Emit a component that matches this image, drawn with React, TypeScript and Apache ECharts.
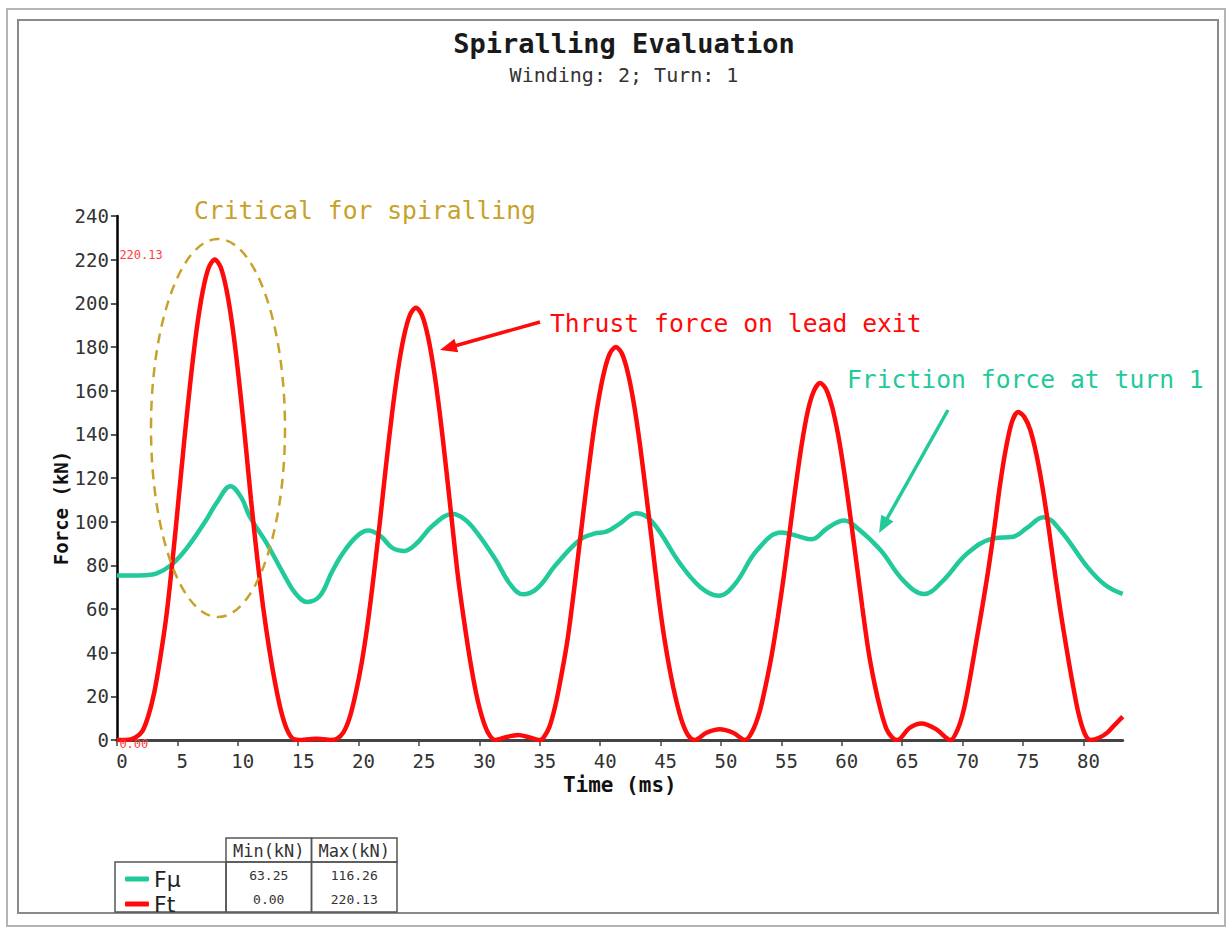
import React, { useEffect, useRef } from "react";
import * as echarts from "echarts";

// ---- data ----
const ftTime = [0, 0.8, 1.5, 2.1, 2.6, 3.1, 3.6, 4.1, 4.6, 5.1, 5.6, 6.1, 6.6, 7.1, 7.6, 8.1, 8.6, 9.1, 9.6, 10.1, 10.6, 11.1, 11.6, 12.1, 12.6, 13.1, 13.6, 14.1, 14.6, 15.3, 15.9, 16.5, 17.1, 17.7, 18.2, 18.75, 19.25, 19.75, 20.25, 20.75, 21.25, 21.75, 22.25, 22.75, 23.25, 23.75, 24.25, 24.75, 25.25, 25.75, 26.25, 26.75, 27.25, 27.75, 28.25, 28.75, 29.25, 29.75, 30.25, 30.75, 31.3, 32.2, 33.2, 34.1, 35.0, 35.3, 35.8, 36.3, 36.8, 37.3, 37.8, 38.3, 38.8, 39.3, 39.8, 40.3, 40.8, 41.3, 41.8, 42.3, 42.8, 43.3, 43.8, 44.3, 44.8, 45.3, 45.8, 46.3, 46.8, 47.3, 47.8, 48.8, 49.9, 51.0, 52.0, 52.6, 53.2, 53.7, 54.2, 54.7, 55.2, 55.7, 56.2, 56.7, 57.2, 57.7, 58.2, 58.7, 59.2, 59.7, 60.2, 60.7, 61.2, 61.7, 62.2, 62.7, 63.2, 63.7, 64.2, 64.6, 65.6, 66.6, 67.8, 69.0, 69.6, 70.1, 70.6, 71.1, 71.6, 72.1, 72.6, 73.1, 73.6, 74.1, 74.6, 75.1, 75.6, 76.1, 76.6, 77.1, 77.6, 78.1, 78.6, 79.1, 79.6, 80.1, 80.6, 81.3, 82.0, 82.6, 83.25];
const ftForce = [0, 0, 1, 4, 11, 22, 38, 57, 82, 110, 138.5, 165, 188, 205.4, 216.4, 220.13, 216.4, 205.4, 188, 165, 138.5, 110, 84, 61, 42, 26, 13, 4.5, 0.5, 0, 0.3, 0.6, 0.3, 0, 0.5, 3.5, 10, 21, 35, 53, 75, 99, 124.5, 148.5, 169, 184.7, 194.6, 198, 194.6, 184.7, 169, 148.5, 124.5, 99, 74, 54, 36, 21, 10, 3, 0, 1.3, 2.3, 1.3, 0, 1, 6, 16, 30, 46, 67, 90, 113, 135, 153.7, 168, 177, 180, 177, 168, 153.7, 135, 113, 90, 67, 47, 31, 18, 8, 2, 0, 3.3, 4.9, 3.3, 0, 4, 13, 25, 39, 56, 75, 96, 117, 136, 151, 160, 163.5, 160.7, 152.5, 139.6, 122.6, 102.8, 81.8, 60.7, 41, 26, 14, 5, 1, 0, 5.5, 7.6, 5, 0, 5, 14, 28, 44, 60, 77, 96, 117, 134, 146, 150.2, 148, 142, 131, 116, 98, 78, 59, 42, 26, 12, 3, 0, 1, 3.5, 7, 10.7];

const fmuTime = [0, 1.3, 2.3, 3.25, 4.5, 5.8, 7.3, 8.3, 9.4, 10.3, 11, 12.4, 13.8, 14.8, 15.75, 16.8, 17.8, 18.7, 19.8, 20.8, 21.8, 22.8, 23.8, 24.8, 26.1, 27.8, 28.8, 29.8, 31.3, 32.6, 33.6, 34.8, 36.3, 38.3, 39.5, 40.5, 41.6, 43, 44.3, 46.6, 48.3, 49.8, 51.1, 53, 55, 56.3, 57.5, 58.8, 60.2, 61.3, 63.2, 65.1, 66.8, 68.3, 70.4, 72.6, 74.2, 75.3, 76.7, 78.1, 80.3, 81.8, 83.25];
const fmuForce = [75.3, 75.3, 75.5, 76.2, 80.2, 88, 100, 109, 116.26, 111, 102.3, 90.1, 76, 67, 63.25, 66, 77, 85.5, 93, 95.9, 93.5, 88, 86.6, 90, 98, 103.5, 101, 95, 83, 71, 66.7, 69.5, 80, 91.6, 94.5, 95.4, 99, 103.8, 100, 80.9, 70, 66.1, 71, 87, 95, 93.5, 91.9, 97, 100.5, 97, 87, 73, 66.9, 72.5, 85.5, 92.4, 93.1, 97, 102, 96, 79.4, 71, 66.9];

const seriesNames = ["Fμ", "Ft"];
const tableHeaders = ["Min(kN)", "Max(kN)"];

const TITLE = "Spiralling Evaluation";
const SUBTITLE = "Winding: 2; Turn: 1";
const X_NAME = "Time (ms)";
const Y_NAME = "Force (kN)";
const NOTE_CRITICAL = "Critical for spiralling";
const NOTE_THRUST = "Thrust force on lead exit";
const NOTE_FRICTION = "Friction force at turn 1";

const X_MIN = 0;
const X_MAX = 83.25;
const X_INTERVAL = 5;
const Y_MIN = 0;
const Y_MAX = 240;
const Y_INTERVAL = 20;

// ---- styles ----
const MONO = '"DejaVu Sans Mono", "Liberation Mono", monospace';
const SANS = '"DejaVu Sans", "Noto Sans", sans-serif';
const GREEN = "#22c99a";
const RED = "#ff0a0a";
const GOLD = "#c9a12a";

function arrow(tail: number[], tip: number[], color: string, width: number, headLen: number, headHalf: number) {
  const dx = tip[0] - tail[0];
  const dy = tip[1] - tail[1];
  const len = Math.sqrt(dx * dx + dy * dy);
  const ux = dx / len;
  const uy = dy / len;
  const bx = tip[0] - ux * headLen;
  const by = tip[1] - uy * headLen;
  const nx = uy;
  const ny = -ux;
  return [
    {
      type: "line",
      shape: { x1: tail[0], y1: tail[1], x2: bx + ux * 2, y2: by + uy * 2 },
      style: { stroke: color, lineWidth: width },
      z: 100,
    },
    {
      type: "polygon",
      shape: {
        points: [
          [tip[0], tip[1]],
          [bx + nx * headHalf, by + ny * headHalf],
          [bx - nx * headHalf, by - ny * headHalf],
        ],
      },
      style: { fill: color },
      z: 100,
    },
  ];
}

export default function App() {
  const ref = useRef<HTMLDivElement>(null);

  useEffect(() => {
    if (!ref.current) return;
    const chart = echarts.init(ref.current, null, { renderer: "svg" });

    const ftData = ftTime.map((t, i) => [t, ftForce[i]]);
    const fmuData = fmuTime.map((t, i) => [t, fmuForce[i]]);
    const ftMin = Math.min(...ftForce);
    const ftMax = Math.max(...ftForce);
    const fmuMin = Math.min(...fmuForce);
    const fmuMax = Math.max(...fmuForce);

    const tableLeft = 226;
    const colW = 85.5;
    const headTop = 838;
    const headH = 24;
    const bottom = 912;
    const rowY = [875, 899];

    const cellStroke = { stroke: "#555", lineWidth: 1.5, fill: "none" };
    const noteFont = 24.7;

    const graphics: any[] = [
      // frames
      { type: "rect", shape: { x: 7, y: 9, width: 1218, height: 917 }, style: { stroke: "#b4b4b4", lineWidth: 2, fill: "none" }, silent: true },
      { type: "rect", shape: { x: 18, y: 20, width: 1200, height: 893 }, style: { stroke: "#8a8a8a", lineWidth: 2, fill: "none" }, silent: true },
      // y axis name
      {
        type: "text",
        x: 61,
        y: 508,
        rotation: Math.PI / 2,
        style: { text: Y_NAME, fontSize: 19, fontWeight: "bold", fontFamily: MONO, fill: "#111", align: "center", verticalAlign: "middle" },
      },
      // annotations
      { type: "text", x: 194, y: 210, style: { text: NOTE_CRITICAL, fontSize: noteFont, fontFamily: MONO, fill: GOLD, align: "left", verticalAlign: "middle" } },
      { type: "text", x: 550, y: 323, style: { text: NOTE_THRUST, fontSize: noteFont, fontFamily: MONO, fill: RED, align: "left", verticalAlign: "middle" } },
      { type: "text", x: 847, y: 379, style: { text: NOTE_FRICTION, fontSize: noteFont, fontFamily: MONO, fill: GREEN, align: "left", verticalAlign: "middle" } },
      {
        type: "ellipse",
        shape: { cx: 218, cy: 428, rx: 67, ry: 189 },
        style: { stroke: GOLD, lineWidth: 2.5, fill: "none", lineDash: [10, 7] },
        z: 100,
      },
      ...arrow([540, 322], [440, 350], RED, 3.5, 17, 7),
      ...arrow([948, 410], [879, 533], GREEN, 3.5, 17, 7),
      // table
      { type: "rect", shape: { x: 115, y: headTop + headH, width: tableLeft - 115, height: bottom - headTop - headH }, style: cellStroke },
      { type: "rect", shape: { x: tableLeft, y: headTop, width: colW, height: headH }, style: cellStroke },
      { type: "rect", shape: { x: tableLeft + colW, y: headTop, width: colW, height: headH }, style: cellStroke },
      { type: "rect", shape: { x: tableLeft, y: headTop + headH, width: colW, height: bottom - headTop - headH }, style: cellStroke },
      { type: "rect", shape: { x: tableLeft + colW, y: headTop + headH, width: colW, height: bottom - headTop - headH }, style: cellStroke },
      { type: "text", x: tableLeft + colW / 2, y: headTop + headH / 2 + 1, style: { text: tableHeaders[0], fontSize: 17, fontFamily: MONO, fill: "#333", align: "center", verticalAlign: "middle" } },
      { type: "text", x: tableLeft + colW * 1.5, y: headTop + headH / 2 + 1, style: { text: tableHeaders[1], fontSize: 17, fontFamily: MONO, fill: "#333", align: "center", verticalAlign: "middle" } },
      { type: "text", x: tableLeft + colW / 2, y: rowY[0], style: { text: fmuMin.toFixed(2), fontSize: 13, fontFamily: MONO, fill: "#333", align: "center", verticalAlign: "middle" } },
      { type: "text", x: tableLeft + colW * 1.5, y: rowY[0], style: { text: fmuMax.toFixed(2), fontSize: 13, fontFamily: MONO, fill: "#333", align: "center", verticalAlign: "middle" } },
      { type: "text", x: tableLeft + colW / 2, y: rowY[1], style: { text: ftMin.toFixed(2), fontSize: 13, fontFamily: MONO, fill: "#333", align: "center", verticalAlign: "middle" } },
      { type: "text", x: tableLeft + colW * 1.5, y: rowY[1], style: { text: ftMax.toFixed(2), fontSize: 13, fontFamily: MONO, fill: "#333", align: "center", verticalAlign: "middle" } },
    ];

    chart.setOption({
      animation: false,
      backgroundColor: "#fff",
      title: {
        text: TITLE,
        subtext: SUBTITLE,
        left: 619,
        top: 25,
        textAlign: "center",
        itemGap: 8,
        textStyle: { fontFamily: MONO, fontSize: 27, fontWeight: "bold", color: "#1a1a1a" },
        subtextStyle: { fontFamily: MONO, fontSize: 20, color: "#333" },
      },
      legend: {
        orient: "vertical",
        left: 120,
        top: 863,
        itemWidth: 24,
        itemHeight: 5,
        itemGap: 3,
        icon: "roundRect",
        data: seriesNames,
        textStyle: { fontFamily: SANS, fontSize: 22, lineHeight: 22, color: "#222", padding: [0, 0, 0, 0] },
        selectedMode: false,
      },
      grid: { left: 116.9, right: 1227 - 1122.7, top: 216, bottom: 929 - 740, containLabel: false },
      xAxis: {
        type: "value",
        min: X_MIN,
        max: X_MAX,
        interval: X_INTERVAL,
        name: X_NAME,
        nameLocation: "middle",
        nameGap: 34,
        nameTextStyle: { fontFamily: MONO, fontSize: 21, fontWeight: "bold", color: "#111" },
        axisLine: { show: true, onZero: false, lineStyle: { color: "#444", width: 3 } },
        axisTick: { show: true, length: 6, lineStyle: { color: "#444", width: 1.5 } },
        axisLabel: { fontFamily: MONO, fontSize: 19, color: "#333", margin: 11, padding: [0, 0, 0, 10], showMaxLabel: false },
        splitLine: { show: false },
      },
      yAxis: {
        type: "value",
        min: Y_MIN,
        max: Y_MAX,
        interval: Y_INTERVAL,
        axisLine: { show: true, lineStyle: { color: "#000", width: 2.5 } },
        axisTick: { show: true, length: 6, lineStyle: { color: "#222", width: 1.5 } },
        axisLabel: { fontFamily: MONO, fontSize: 19, color: "#333", margin: 8 },
        splitLine: { show: false },
      },
      graphic: graphics,
      series: [
        {
          name: seriesNames[0],
          type: "line",
          data: fmuData,
          smooth: 0.4,
          symbol: "none",
          showSymbol: false,
          lineStyle: { color: GREEN, width: 4.5 },
          itemStyle: { color: GREEN },
          z: 2,
        },
        {
          name: seriesNames[1],
          type: "line",
          data: ftData,
          smooth: 0.3,
          symbol: "none",
          showSymbol: false,
          lineStyle: { color: RED, width: 4.5 },
          itemStyle: { color: RED },
          z: 3,
          markPoint: {
            silent: true,
            symbol: "rect",
            symbolSize: 1,
            itemStyle: { color: "rgba(0,0,0,0)" },
            label: {
              show: true,
              color: "#ff4040",
              fontFamily: MONO,
              fontSize: 12,
              align: "left",
              verticalAlign: "middle",
              formatter: (p: any) => Number(p.value).toFixed(2),
            },
            data: [
              { coord: [X_MIN, ftMax], value: ftMax, label: { position: [3, -4] } },
              { coord: [X_MIN, ftMin], value: ftMin, label: { position: [3, 4] } },
            ],
          },
        },
      ],
    });

    return () => chart.dispose();
  }, []);

  return <div ref={ref} style={{ position: "absolute", left: 0, top: 0, width: 1227, height: 929 }} />;
}
